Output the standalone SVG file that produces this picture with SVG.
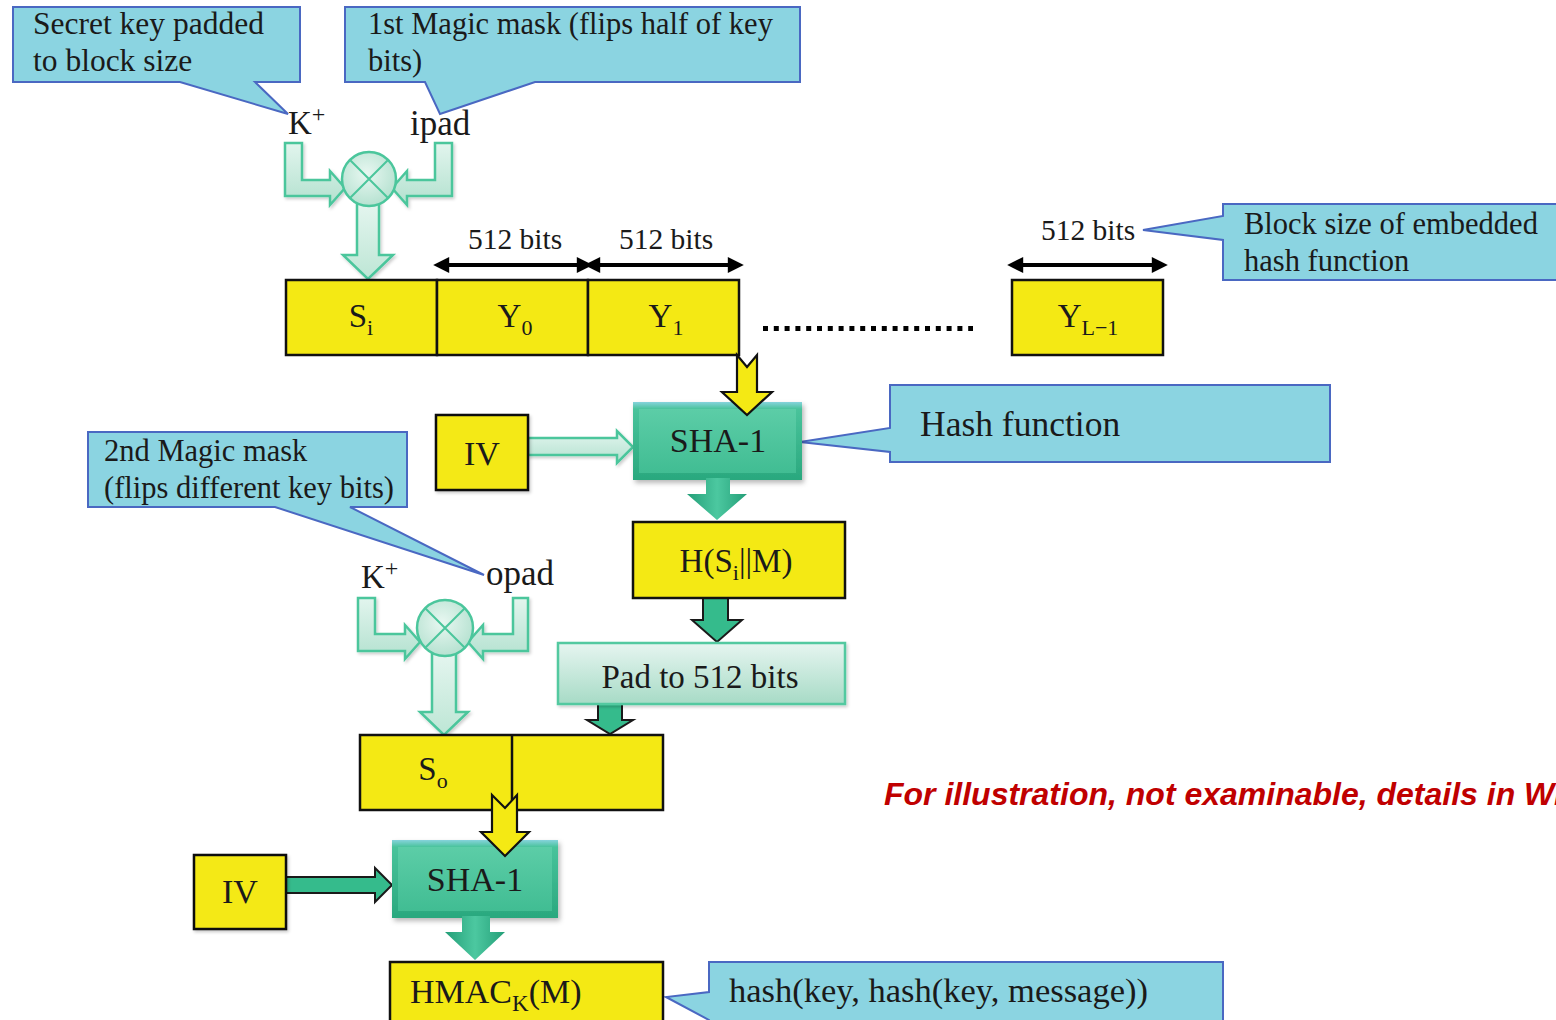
<svg xmlns="http://www.w3.org/2000/svg" width="1556" height="1020" viewBox="0 0 1556 1020">
  <defs>
    <style>
      .t { font-family: "Liberation Serif", "DejaVu Serif", serif; fill: #1a1a1a; }
      .call { fill: #8bd4e1; stroke: #4a68c2; stroke-width: 2; stroke-linejoin: miter; }
      .blk { fill: #f4e914; stroke: #111; stroke-width: 2.5; }
      .mint { fill: url(#mintG); stroke: #4bc69c; stroke-width: 2.5; stroke-linejoin: miter; }
      .mintV { fill: url(#mintV); stroke: #4bc69c; stroke-width: 2.5; stroke-linejoin: miter; }
      .yarr { fill: #f4e914; stroke: #111; stroke-width: 2.2; stroke-linejoin: miter; }
      .garr { fill: #35bb8c; stroke: #1a1a1a; stroke-width: 2; stroke-linejoin: miter; }
      .tarr { fill: url(#tealArr); }
      .dim { stroke: #000; stroke-width: 4; fill: none; marker-start: url(#ah); marker-end: url(#ah); }
    </style>
    <marker id="ah" viewBox="0 0 10 10" refX="2" refY="5" markerWidth="5" markerHeight="4" orient="auto-start-reverse" markerUnits="strokeWidth">
      <path d="M0,0 L10,5 L0,10 z" fill="#000"/>
    </marker>
    <linearGradient id="mintG" x1="0" y1="0" x2="0" y2="1">
      <stop offset="0" stop-color="#e2f5ee"/>
      <stop offset="1" stop-color="#b3e1cf"/>
    </linearGradient>
    <linearGradient id="mintV" x1="0" y1="0" x2="0" y2="1">
      <stop offset="0" stop-color="#e6f6f0"/>
      <stop offset="1" stop-color="#bde6d5"/>
    </linearGradient>
    <radialGradient id="circG" cx="0.45" cy="0.4" r="0.65">
      <stop offset="0" stop-color="#e8f7f1"/>
      <stop offset="1" stop-color="#b2e0ce"/>
    </radialGradient>
    <linearGradient id="shaOuter" x1="0" y1="0" x2="0" y2="1">
      <stop offset="0" stop-color="#86d3dc"/>
      <stop offset="0.09" stop-color="#49c39b"/>
      <stop offset="1" stop-color="#2aa87e"/>
    </linearGradient>
    <linearGradient id="shaInner" x1="0" y1="0" x2="0" y2="1">
      <stop offset="0" stop-color="#5ccda7"/>
      <stop offset="1" stop-color="#41bd93"/>
    </linearGradient>
    <linearGradient id="padG" x1="0" y1="0" x2="0" y2="1">
      <stop offset="0" stop-color="#e6f5f0"/>
      <stop offset="1" stop-color="#a7dbc6"/>
    </linearGradient>
    <linearGradient id="tealArr" x1="0" y1="0" x2="1" y2="0">
      <stop offset="0" stop-color="#249f78"/>
      <stop offset="0.5" stop-color="#4cc8a0"/>
      <stop offset="1" stop-color="#249f78"/>
    </linearGradient>
    <filter id="sh" x="-10%" y="-10%" width="130%" height="140%">
      <feDropShadow dx="2" dy="3" stdDeviation="2.5" flood-color="#000" flood-opacity="0.28"/>
    </filter>
    <filter id="shs" x="-10%" y="-10%" width="130%" height="140%">
      <feDropShadow dx="1.5" dy="2" stdDeviation="1.5" flood-color="#000" flood-opacity="0.2"/>
    </filter>
  </defs>

  <rect width="1556" height="1020" fill="#fff"/>

  <!-- Callouts -->
  <g id="callout-secret-key">
    <polygon class="call" points="13,7 300,7 300,82 255,82 288,114 180,82 13,82"/>
    <text class="t" font-size="31.5" x="33" y="34">Secret key padded</text>
    <text class="t" font-size="31.5" x="33" y="71">to block size</text>
  </g>
  <g id="callout-ipad">
    <polygon class="call" points="345,7 800,7 800,82 535,82 440,114 425,82 345,82"/>
    <text class="t" font-size="30.5" x="368" y="34">1st Magic mask (flips half of key</text>
    <text class="t" font-size="30.5" x="368" y="71">bits)</text>
  </g>
  <g id="callout-block-size">
    <polygon class="call" points="1223,204 1562,204 1562,280 1223,280 1223,240 1143,230 1223,216"/>
    <text class="t" font-size="30.5" x="1244" y="234">Block size of embedded</text>
    <text class="t" font-size="30.5" x="1244" y="271">hash function</text>
  </g>
  <g id="callout-hash-function">
    <polygon class="call" points="890,385 1330,385 1330,462 890,462 890,452 800,442 890,428"/>
    <text class="t" font-size="35.5" x="920" y="436">Hash function</text>
  </g>
  <g id="callout-opad">
    <polygon class="call" points="88,432 407,432 407,507 350,507 484,575 275,507 88,507"/>
    <text class="t" font-size="30.5" x="104" y="461">2nd Magic mask</text>
    <text class="t" font-size="30.5" x="104" y="498">(flips different key bits)</text>
  </g>
  <g id="callout-hmac">
    <polygon class="call" points="709,962 1223,962 1223,1026 709,1026 709,1020 666,997 709,992"/>
    <text class="t" font-size="34.5" x="729" y="1002">hash(key, hash(key, message))</text>
  </g>

  <!-- Connectors -->
  <g id="connectors">
    <!-- inner XOR: K+ and ipad -->
    <polygon class="mintV" filter="url(#shs)" points="357,200 379,200 379,255 393,255 368,279 343,255 357,255"/>
    <polygon class="mint" filter="url(#shs)" points="285,143 302,143 302,180 330,180 330,171 345,188 330,205 330,196 285,196"/>
    <polygon class="mint" filter="url(#shs)" points="452,143 435,143 435,180 407,180 407,171 392,188 407,205 407,196 452,196"/>

    <!-- outer XOR: K+ and opad -->
    <polygon class="mintV" filter="url(#shs)" points="432,650 456,650 456,712 468,712 444,735 420,712 432,712"/>
    <polygon class="mint" filter="url(#shs)" points="358,598 375,598 375,634 405,634 405,625 420,642 405,659 405,651 358,651"/>
    <polygon class="mint" filter="url(#shs)" points="528,598 513,598 513,634 483,634 483,625 468,642 483,659 483,651 528,651"/>

    <!-- block widths -->
    <line class="dim" x1="446" y1="265" x2="580" y2="265"/>
    <line class="dim" x1="597" y1="265" x2="731" y2="265"/>
    <line class="dim" x1="1020" y1="265" x2="1155" y2="265"/>

    <!-- IV into first SHA-1 -->
    <polygon class="mint" filter="url(#shs)" points="528,438 617,438 617,431 633,447 617,463 617,455 528,455"/>
    <!-- IV into second SHA-1 -->
    <polygon class="garr" points="286,877 375,877 375,868 392,885 375,902 375,893 286,893"/>

    <!-- H(Si||M) down to padding, padding down to So block -->
    <polygon class="garr" points="703,598 728,598 728,620 742,620 717,642 692,620 703,620"/>
    <polygon class="garr" points="598,704 622,704 622,720 633,720 610,734 587,720 598,720"/>
  </g>

  <!-- XOR circles -->
  <g id="xor-ipad">
    <circle cx="369" cy="179" r="27" fill="url(#circG)" stroke="#4bc69c" stroke-width="2.5"/>
    <path d="M350,160 L388,198 M388,160 L350,198" stroke="#4bc69c" stroke-width="2"/>
  </g>
  <g id="xor-opad">
    <circle cx="445" cy="628" r="28" fill="url(#circG)" stroke="#4bc69c" stroke-width="2.5"/>
    <path d="M425,608 L465,648 M465,608 L425,648" stroke="#4bc69c" stroke-width="2"/>
  </g>

  <!-- Labels -->
  <g id="label-kplus-1">
    <text class="t" font-size="33" x="288" y="134">K<tspan font-size="24" dy="-12">+</tspan></text>
  </g>
  <g id="label-ipad">
    <text class="t" font-size="35" x="410" y="135">ipad</text>
  </g>
  <g id="label-kplus-2">
    <text class="t" font-size="33" x="361" y="588">K<tspan font-size="24" dy="-12">+</tspan></text>
  </g>
  <g id="label-opad">
    <text class="t" font-size="35" x="486" y="585">opad</text>
  </g>
  <g id="label-512-widths">
    <text class="t" font-size="29.5" x="515" y="249" text-anchor="middle">512 bits</text>
    <text class="t" font-size="29.5" x="666" y="249" text-anchor="middle">512 bits</text>
    <text class="t" font-size="29.5" x="1088" y="240" text-anchor="middle">512 bits</text>
  </g>

  <!-- Message blocks -->
  <g id="block-si">
    <rect class="blk" x="286" y="280" width="151" height="75"/>
    <text class="t" font-size="33" x="361" y="327" text-anchor="middle">S<tspan font-size="22" dy="8">i</tspan></text>
  </g>
  <g id="block-y0">
    <rect class="blk" x="437" y="280" width="151" height="75"/>
    <text class="t" font-size="33" x="515" y="327" text-anchor="middle">Y<tspan font-size="22" dy="8">0</tspan></text>
  </g>
  <g id="block-y1">
    <rect class="blk" x="588" y="280" width="151" height="75"/>
    <text class="t" font-size="33" x="666" y="327" text-anchor="middle">Y<tspan font-size="22" dy="8">1</tspan></text>
  </g>
  <g id="ellipsis">
    <line x1="763" y1="328.5" x2="973" y2="328.5" stroke="#000" stroke-width="5" stroke-dasharray="5 5.8"/>
  </g>
  <g id="block-yl1">
    <rect class="blk" x="1012" y="280" width="151" height="75"/>
    <text class="t" font-size="33" x="1088" y="327" text-anchor="middle">Y<tspan font-size="22" dy="8">L−1</tspan></text>
  </g>

  <!-- Inner hash -->
  <g id="iv-1">
    <rect class="blk" filter="url(#shs)" x="436" y="415" width="92" height="75"/>
    <text class="t" font-size="34" x="482" y="465" text-anchor="middle">IV</text>
  </g>
  <g id="sha1-inner">
    <rect x="633" y="402" width="169" height="78" fill="url(#shaOuter)" filter="url(#sh)"/>
    <rect x="639" y="409" width="157" height="64" fill="url(#shaInner)"/>
    <text class="t" font-size="34" x="718" y="452" text-anchor="middle">SHA-1</text>
  </g>
  <g id="arrow-y1-to-sha1">
    <polygon class="yarr" points="737,355 747,367 757,355 757,392 772,392 747,415 722,392 737,392"/>
  </g>
  <g id="arrow-sha1-inner-out">
    <polygon class="tarr" points="706,478 730,478 730,494 747,494 717,520 687,494 706,494"/>
  </g>
  <g id="h-si-m">
    <rect class="blk" x="633" y="522" width="212" height="76"/>
    <text class="t" font-size="33" x="736" y="572" text-anchor="middle">H(S<tspan font-size="22" dy="8">i</tspan><tspan dy="-8">||M)</tspan></text>
  </g>
  <g id="pad-512">
    <rect x="558" y="643" width="287" height="61" fill="url(#padG)" stroke="#52c9a0" stroke-width="2.5" filter="url(#shs)"/>
    <text class="t" font-size="33" x="700" y="688" text-anchor="middle">Pad to 512 bits</text>
  </g>

  <!-- Outer hash -->
  <g id="block-so">
    <rect class="blk" x="360" y="735" width="303" height="75"/>
    <line x1="512" y1="735" x2="512" y2="810" stroke="#111" stroke-width="2.5"/>
    <text class="t" font-size="33" x="433" y="780" text-anchor="middle">S<tspan font-size="22" dy="8">o</tspan></text>
  </g>
  <g id="iv-2">
    <rect class="blk" filter="url(#shs)" x="194" y="855" width="92" height="74"/>
    <text class="t" font-size="34" x="240" y="903" text-anchor="middle">IV</text>
  </g>
  <g id="sha1-outer">
    <rect x="392" y="840" width="166" height="78" fill="url(#shaOuter)" filter="url(#sh)"/>
    <rect x="398" y="847" width="154" height="64" fill="url(#shaInner)"/>
    <text class="t" font-size="34" x="475" y="891" text-anchor="middle">SHA-1</text>
  </g>
  <g id="arrow-so-to-sha1">
    <polygon class="yarr" points="492,795 505,808 517,795 517,832 529,832 505,856 481,832 492,832"/>
  </g>
  <g id="arrow-sha1-outer-out">
    <polygon class="tarr" points="462,916 490,916 490,932 505,932 475,960 445,932 462,932"/>
  </g>
  <g id="hmac">
    <rect class="blk" x="390" y="962" width="273" height="64"/>
    <text class="t" font-size="34" x="410" y="1003">HMAC<tspan font-size="23" dy="8">K</tspan><tspan dy="-8">(M)</tspan></text>
  </g>

  <!-- Note -->
  <text x="884" y="805" font-family="'Liberation Sans', Arial, sans-serif" font-size="32" font-weight="bold" font-style="italic" fill="#c00000">For illustration, not examinable, details in Wikipedia</text>
</svg>
